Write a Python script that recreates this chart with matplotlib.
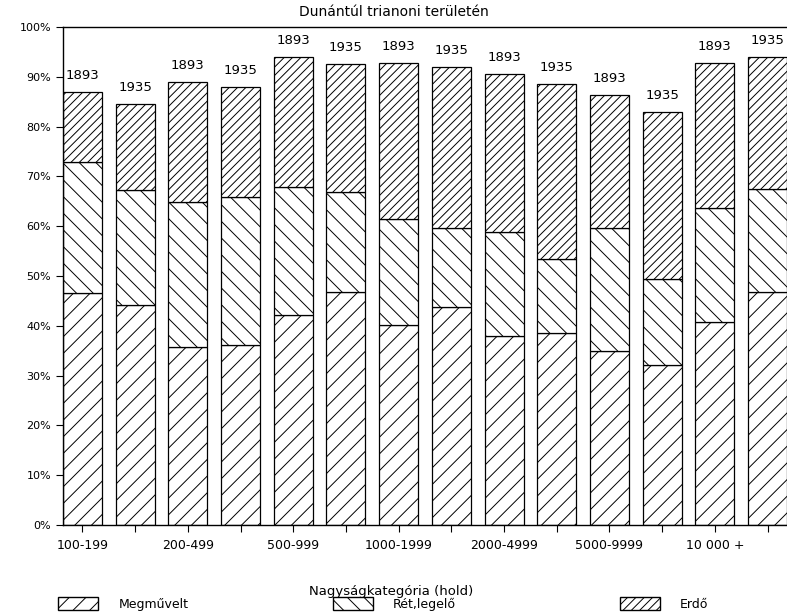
import matplotlib.pyplot as plt
import matplotlib.patches as mpatches
import numpy as np

# size categories (hold) and census years
categories = ['100-199', '200-499', '500-999', '1000-1999',
              '2000-4999', '5000-9999', '10 000 +']
years = ['1893', '1935']

# share of land use in percent, one value per bar (1893, 1935 pairs)
megmuvelt = [46.6, 44.2, 35.7, 36.1, 42.2, 46.8, 40.2, 43.8, 38.0, 38.6, 34.9, 32.1, 40.8, 46.8]
ret_legelo = [26.3, 23.1, 29.2, 29.8, 25.7, 20.1, 21.2, 15.8, 20.8, 14.8, 24.7, 17.3, 22.9, 20.7]
erdo = [14.1, 17.2, 24.1, 22.1, 26.1, 25.7, 31.4, 32.4, 31.8, 35.2, 26.8, 33.5, 29.1, 26.5]

plt.rcParams['hatch.linewidth'] = 0.7

fig = plt.figure(figsize=(7.87, 6.15), dpi=100)
ax = fig.add_axes([0.080, 0.1463, 0.920, 0.8098])

x = np.arange(len(megmuvelt))
w = 0.74
bottom2 = np.array(megmuvelt)
bottom3 = bottom2 + np.array(ret_legelo)

ax.bar(x, megmuvelt, w, color='white', edgecolor='black', lw=0.9, hatch='//')
ax.bar(x, ret_legelo, w, bottom=bottom2, color='white', edgecolor='black', lw=0.9, hatch='\\\\')
ax.bar(x, erdo, w, bottom=bottom3, color='white', edgecolor='black', lw=0.9, hatch='////')

tops = bottom3 + np.array(erdo)
for i, t in enumerate(tops):
    ax.annotate(years[i % 2], (x[i], t), xytext=(0, 7), textcoords='offset points',
                ha='center', va='bottom', fontsize=9.5)

ax.set_ylim(0, 100)
ax.set_xlim(-0.37, 13.37)
ax.set_yticks(np.arange(0, 101, 10))
ax.set_yticklabels([f'{v}%' for v in range(0, 101, 10)], fontsize=8)
ax.set_xticks(x)
ax.set_xticklabels([categories[i // 2] if i % 2 == 0 else '' for i in x], fontsize=9)
ax.tick_params(axis='both', length=5, width=0.8, direction='out')
ax.tick_params(axis='x', pad=5)
ax.spines['right'].set_visible(False)
for s in ['left', 'top', 'bottom']:
    ax.spines[s].set_linewidth(1)

fig.text(0.5, 1 - 12 / 615, 'Dunántúl trianoni területén', ha='center', va='center', fontsize=10)
fig.text(0.497, 1 - 591 / 615, 'Nagyságkategória (hold)', ha='center', va='center', fontsize=9.5)

# legend entries spread along the bottom like the original
leg_labels = ['Megművelt', 'Rét,legelő', 'Erdő']
leg_hatches = ['//', '\\\\', '////']
leg_x = [0.06, 0.409, 0.773]
for lab, h, lx in zip(leg_labels, leg_hatches, leg_x):
    p = mpatches.Patch(facecolor='white', edgecolor='black', hatch=h, label=lab)
    fig.legend(handles=[p], loc='center left', bbox_to_anchor=(lx, 1 - 604 / 615),
               frameon=False, fontsize=9, handlelength=3.2, handleheight=1.2,
               handletextpad=1.6)

plt.savefig('out.png', dpi=100)
